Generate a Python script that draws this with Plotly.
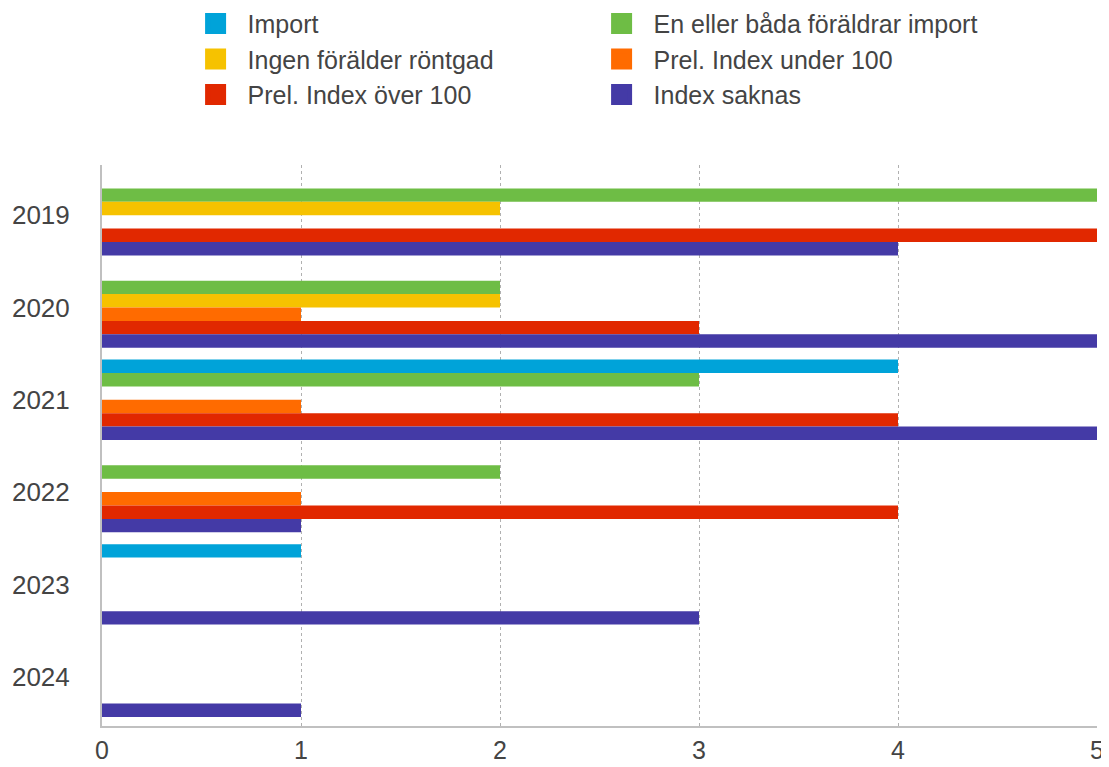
import plotly.graph_objects as go

years = ["2019", "2020", "2021", "2022", "2023", "2024"]
series_names = [
    "Import",
    "En eller båda föräldrar import",
    "Ingen förälder röntgad",
    "Prel. Index under 100",
    "Prel. Index över 100",
    "Index saknas",
]
import_vals = [0, 0, 4, 0, 1, 0]
en_eller_bada = [5, 2, 3, 2, 0, 0]
ingen_rontgad = [2, 2, 0, 0, 0, 0]
index_under_100 = [0, 1, 1, 1, 0, 0]
index_over_100 = [5, 3, 4, 4, 0, 0]
index_saknas = [4, 5, 5, 1, 3, 1]
x_ticks = [0, 1, 2, 3, 4, 5]

series_values = [import_vals, en_eller_bada, ingen_rontgad,
                 index_under_100, index_over_100, index_saknas]
colors = ["#00a3d9", "#6ebd45", "#f6c200", "#ff6b00", "#e12800", "#443aa6"]

FONT = "Liberation Sans, Arial, Helvetica, sans-serif"
TXT = "#444444"

fig = go.Figure()
for name, vals, col in zip(series_names, series_values, colors):
    fig.add_trace(go.Bar(
        y=years, x=vals, name=name, orientation="h",
        marker=dict(color=col, line=dict(width=0)),
        showlegend=False, hoverinfo="x+name",
    ))
# legend entries (larger square swatches)
for name, col in zip(series_names, colors):
    fig.add_trace(go.Scatter(
        x=[None], y=[None], name=name, mode="markers",
        marker=dict(symbol="square", size=16, color=col,
                    line=dict(color=col, width=5)),
        showlegend=True,
    ))

# the page body has an 8px margin, so the figure is made 8px smaller
fig.update_layout(
    width=1101, height=759,
    margin=dict(l=94, r=12, t=157, b=41, autoexpand=False),
    paper_bgcolor="white", plot_bgcolor="white",
    barmode="group", bargap=0.129, bargroupgap=0,
    font=dict(family=FONT, size=26, color=TXT),
    legend=dict(
        orientation="h", x=0.082, xanchor="left",
        yref="paper", y=1.293, yanchor="top",
        entrywidth=337, entrywidthmode="pixels",
        itemwidth=54, font=dict(size=25, color=TXT),
        traceorder="normal", bgcolor="rgba(0,0,0,0)",
    ),
    xaxis=dict(
        range=[0, 5], tickvals=x_ticks, ticktext=[str(t) for t in x_ticks],
        showgrid=True, gridcolor="#b0b0b0", griddash="dot", gridwidth=1,
        zeroline=False, showline=True, linecolor="#c0c0c0", linewidth=2,
        ticks="", ticklabelstandoff=1, automargin=False,
        tickfont=dict(size=25, color=TXT), fixedrange=True,
    ),
    yaxis=dict(
        type="category", categoryorder="array", categoryarray=years,
        range=[5.534, -0.544], showgrid=False, zeroline=False,
        showline=True, linecolor="#c0c0c0", linewidth=2,
        ticks="", ticklabelstandoff=25, automargin=False,
        tickfont=dict(size=26, color=TXT), fixedrange=True,
    ),
)

fig.write_html("out.html")
